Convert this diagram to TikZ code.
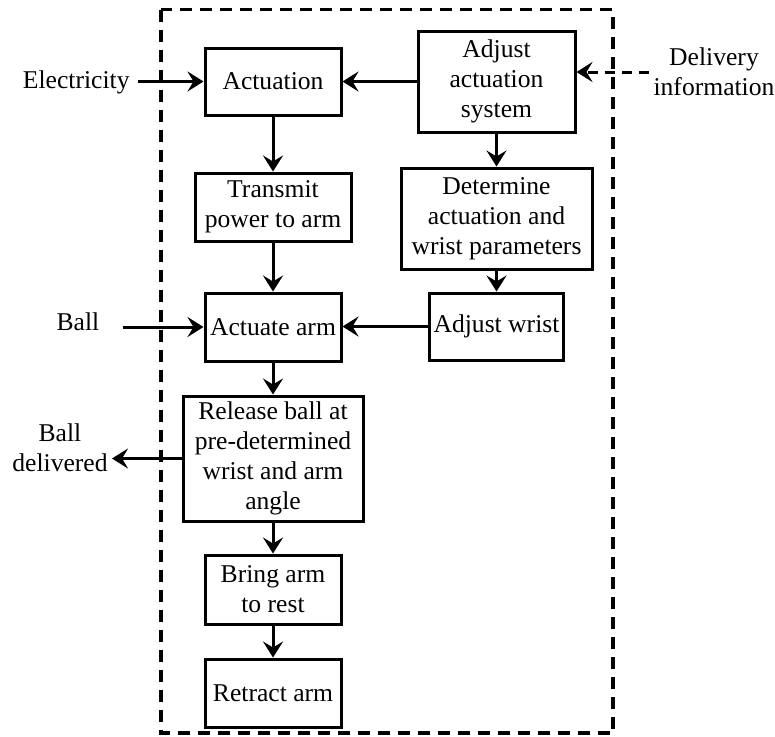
\documentclass[tikz,border=0pt]{standalone}
\usepackage{fontspec}
\setmainfont{Liberation Serif}
\usepackage{tikz}
\usetikzlibrary{arrows.meta,positioning}
\definecolor{fdedge}{RGB}{0,0,0}
\newcommand{\fdfont}{\fontsize{12.8}{15}\selectfont}
\tikzset{
  fdbox/.style={
    draw=fdedge, line width=1.5pt, align=center, inner sep=1pt,
    font=\fdfont, minimum width=68pt, minimum height=34pt
  },
  fdtxt/.style={font=\fdfont, align=center, inner sep=2pt},
  arr/.style={-{Stealth[length=8pt,width=10pt,inset=3pt]}, draw=fdedge, line width=1.5pt},
  darr/.style={arr, dash pattern=on 5pt off 3.5pt},
  sysfrm/.style={draw=fdedge, line width=1.6pt, dash pattern=on 6pt off 4pt}
}

\begin{document}
\begin{tikzpicture}[x=0.5pt, y=-0.5pt]
  \useasboundingbox (0,0) rectangle (775,736);
  \draw[sysfrm] (161,9.5) rectangle (613,733);
  \node[fdbox, minimum height=33.5pt] (act) at (273,81.5) {Actuation};
  \node[fdbox, minimum width=78.5pt, minimum height=50.5pt] (adj) at (496.5,81.5) {Adjust\\actuation\\system};
  \node[fdbox, minimum width=78pt, below=27.5pt of act] (tx) {Transmit\\power to arm};
  \node[fdbox, below=24.5pt of tx] (actarm) {Actuate arm};
  \node[fdbox, minimum width=90pt, minimum height=62.5pt, below=16pt of actarm] (rel) {Release ball at\\pre-determined\\wrist and arm\\angle};
  \node[fdbox, minimum height=34.5pt, below=15.5pt of rel] (rest) {Bring arm\\to rest};
  \node[fdbox, below=16pt of rest] (retr) {Retract arm};
  \node[fdbox, minimum width=95.5pt, minimum height=50.5pt, below=16.5pt of adj] (det) {Determine\\actuation and\\wrist parameters};
  \node[fdbox, minimum width=67pt, minimum height=33.5pt, below=10.5pt of det] (adjwr) {Adjust wrist};
  \node[fdtxt, anchor=east] (elec) at (134,82) {Electricity};
  \node[fdtxt] (ball) at (78,322) {Ball};
  \node[fdtxt] (bdel) at (60,448) {Ball\\delivered};
  \node[fdtxt] (dinf) at (714,72) {Delivery\\information};
  \foreach \p/\q in {act/tx,tx/actarm,actarm/rel,rel/rest,rest/retr,adj/det,det/adjwr} \draw[arr] (\p) -- (\q);
  \draw[arr] (adj) -- (act);
  \draw[arr] (adjwr.west) -- (adjwr.west -| actarm.east);
  \draw[arr, shorten <=2pt] (elec.east |- act) -- (act.west);
  \draw[arr, shorten <=9.5pt] (ball.east |- actarm) -- (actarm.west);
  \draw[arr] (rel.west) -- (rel.west -| bdel.east);
  \draw[darr] (dinf.west) -- (dinf.west -| adj.east);
\end{tikzpicture}
\end{document}
